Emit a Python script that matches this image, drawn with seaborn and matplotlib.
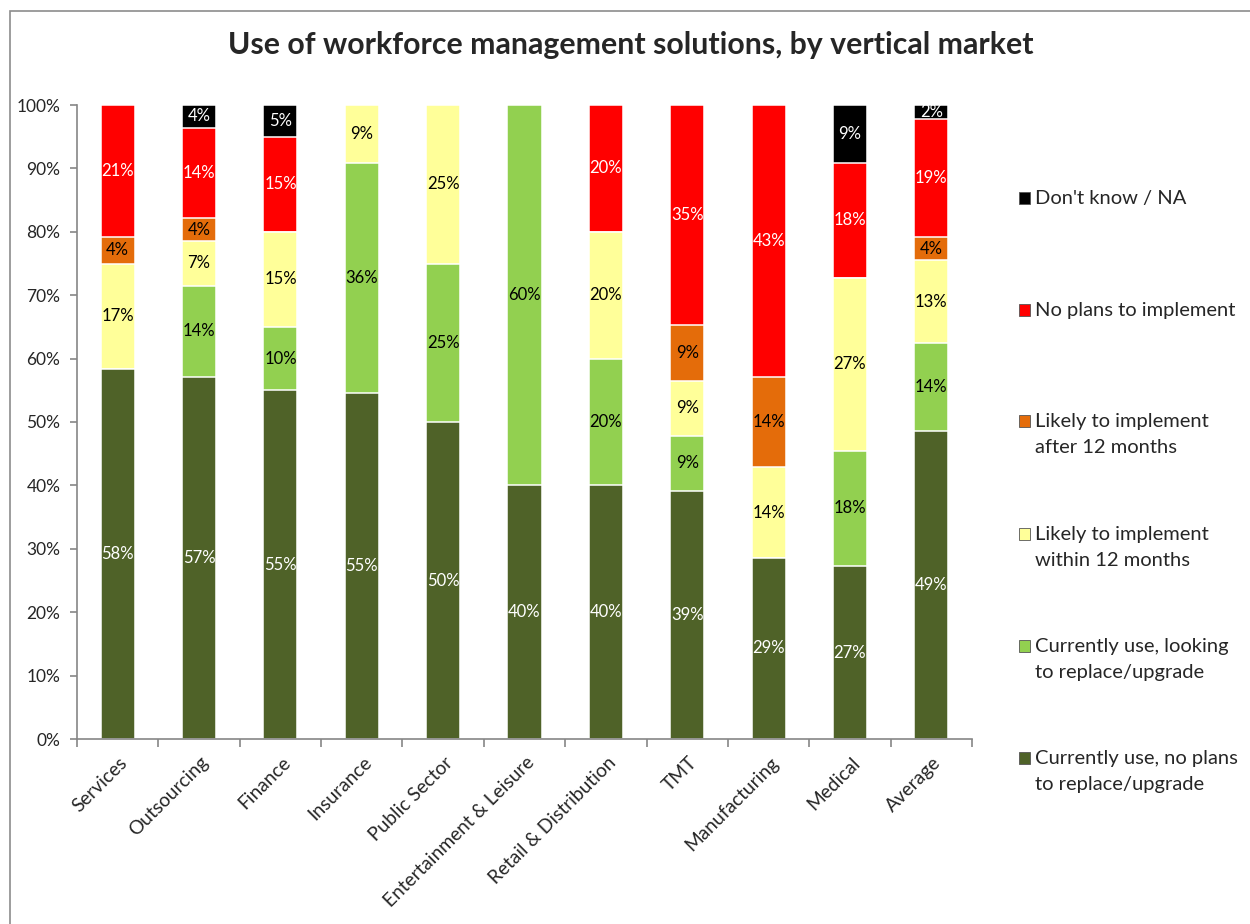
import numpy as np
import pandas as pd
import matplotlib
matplotlib.use("Agg")
import matplotlib.pyplot as plt
import matplotlib.transforms as mtransforms
from matplotlib.patches import Rectangle
import seaborn as sns

# ---- data ----
categories = ["Services", "Outsourcing", "Finance", "Insurance", "Public Sector",
              "Entertainment & Leisure", "Retail & Distribution", "TMT",
              "Manufacturing", "Medical", "Average"]
use_no_plans = [58.33, 57.14, 55.0, 54.55, 50.0, 40.0, 40.0, 39.13, 28.57, 27.27, 48.6]
use_replace  = [0.0, 14.29, 10.0, 36.36, 25.0, 60.0, 20.0, 8.70, 0.0, 18.18, 13.8]
within_12    = [16.67, 7.14, 15.0, 9.09, 25.0, 0.0, 20.0, 8.70, 14.29, 27.27, 13.1]
after_12     = [4.17, 3.57, 0.0, 0.0, 0.0, 0.0, 0.0, 8.70, 14.29, 0.0, 3.7]
no_plans     = [20.83, 14.29, 15.0, 0.0, 0.0, 0.0, 20.0, 34.78, 42.86, 18.18, 18.6]
dont_know    = [0.0, 3.57, 5.0, 0.0, 0.0, 0.0, 0.0, 0.0, 0.0, 9.09, 2.2]

series_names = ["Currently use, no plans\nto replace/upgrade",
                "Currently use, looking\nto replace/upgrade",
                "Likely to implement\nwithin 12 months",
                "Likely to implement\nafter 12 months",
                "No plans to implement",
                "Don't know / NA"]
series_values = [use_no_plans, use_replace, within_12, after_12, no_plans, dont_know]
colors = ["#4F6228", "#92D050", "#FFFF99", "#E46C0A", "#FF0000", "#000000"]
label_colors = ["white", "black", "black", "black", "white", "white"]

title = "Use of workforce management solutions, by vertical market"

# ---- style ----
sns.set_style("white")
plt.rcParams["font.family"] = ["Lato", "DejaVu Sans"]

W, H = 1250, 924
fig = plt.figure(figsize=(W / 100, H / 100), dpi=100)
fig.patch.set_facecolor("white")

ax_left, ax_right, ax_bottom, ax_top = 77, 972, 739, 105
ax = fig.add_axes([ax_left / W, 1 - ax_bottom / H,
                   (ax_right - ax_left) / W, (ax_bottom - ax_top) / H])

vals = np.array(series_values, dtype=float)
cum = np.cumsum(vals, axis=0)

# draw cumulative bars from the top layer down
for k in reversed(range(len(series_values))):
    df = pd.DataFrame({"cat": categories, "val": cum[k]})
    sns.barplot(data=df, x="cat", y="val", order=categories, color=colors[k],
                saturation=1, width=0.42, edgecolor="white", linewidth=1.1,
                ax=ax)

# segment labels
for k in range(len(series_values)):
    for i, cat in enumerate(categories):
        v = vals[k, i]
        if v <= 0:
            continue
        mid = cum[k, i] - v / 2
        ax.text(i, mid, f"{round(v):.0f}%", ha="center", va="center",
                color=label_colors[k], fontsize=12)

ax.set_ylim(0, 100)
ax.set_xlim(-0.5, len(categories) - 0.5)
ax.set_yticks(np.arange(0, 101, 10))
ax.set_yticklabels([f"{t:.0f}%" for t in np.arange(0, 101, 10)])
ax.set_xticks(range(len(categories)))
ax.set_xticklabels(categories, rotation=45, ha="right", va="center",
                   rotation_mode="anchor")
ax.set_xticks(np.arange(-0.5, len(categories), 1), minor=True)
ax.set_xlabel("")
ax.set_ylabel("")

gray = "#868686"
for s in ["top", "right"]:
    ax.spines[s].set_visible(False)
for s in ["left", "bottom"]:
    ax.spines[s].set_color(gray)
    ax.spines[s].set_linewidth(1.2)
ax.tick_params(axis="y", which="major", direction="out", length=5, color=gray,
               width=1.2, labelsize=12.5, pad=7, left=True)
ax.tick_params(axis="x", which="major", length=0, labelsize=13.8, pad=15)
ax.tick_params(axis="x", which="minor", direction="out", length=6, color=gray,
               width=1.2, bottom=True)

offset = mtransforms.ScaledTranslation(7 / 100, 0, fig.dpi_scale_trans)
for lab in ax.get_xticklabels():
    lab.set_transform(lab.get_transform() + offset)

# title
fig.text(631 / W, 1 - 45 / H, title, ha="center", va="center",
         fontsize=21.8, fontweight="bold")

# legend (top entry first)
legend_y = [198, 310, 421, 534, 646, 758]
for j, k in enumerate(reversed(range(len(series_values)))):
    y = legend_y[j]
    fig.add_artist(Rectangle((1019 / W, 1 - (y + 6) / H), 11 / W, 12 / H,
                             transform=fig.transFigure, facecolor=colors[k],
                             edgecolor="#555555", linewidth=0.6))
    fig.text(1035 / W, 1 - (y - 8) / H, series_names[k], ha="left", va="top",
             fontsize=14.5, linespacing=1.62)

# chart border
fig.add_artist(Rectangle((10 / W, -0.1), 1.2, 1.1 - 11 / H,
                         transform=fig.transFigure, fill=False,
                         edgecolor="#8c8c8c", linewidth=1.2))

fig.savefig("out.png", dpi=100)
